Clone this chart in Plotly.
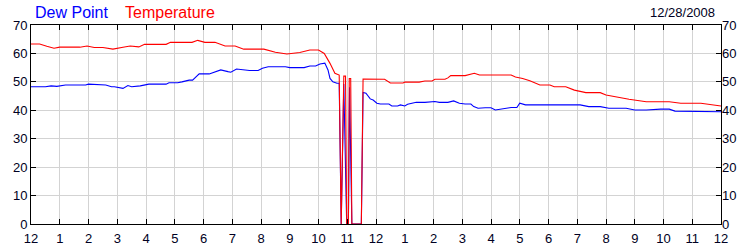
import plotly.graph_objects as go

# Hours since midnight (0 = 12 AM, 24 = next 12 AM)
dew_t = [0, 0.5, 0.7, 0.9, 1.2, 1.9, 2.0, 2.4, 2.6, 2.8, 2.9, 3.2, 3.37, 3.5, 3.8, 4.1, 4.7, 4.8, 5.1, 5.25,
         5.5, 5.62, 5.72, 5.85, 6.2, 6.4, 6.6, 6.85, 6.95, 7.15, 7.45, 7.6, 7.9, 8.05, 8.25, 8.85, 9.0, 9.5, 9.7, 9.9,
         10.05, 10.22, 10.33, 10.4, 10.5, 10.64, 10.72, 10.79, 10.88, 10.98, 11.04, 11.08, 11.16, 11.49, 11.55,
         11.65, 11.8, 11.9, 12.03, 12.15, 12.45, 12.55, 12.75, 12.85, 13.0, 13.1, 13.25, 13.4, 13.7, 13.9, 14.05,
         14.2, 14.5, 14.7, 14.9, 15.1, 15.3, 15.4, 15.55, 15.8, 16.0, 16.15, 16.5, 16.7, 16.9, 17.0, 17.2, 17.9,
         19.1, 19.4, 19.8, 20.1, 20.7, 21.0, 21.4, 21.9, 22.2, 22.4, 22.9, 23.4, 24]
dew_v = [48.3, 48.3, 48.6, 48.4, 48.9, 48.9, 49.2, 48.9, 48.9, 48.3, 48.3, 47.7, 48.7, 48.3, 48.6, 49.2, 49.2,
         49.7, 49.7, 50.0, 50.6, 50.6, 51.6, 52.8, 52.8, 53.6, 54.2, 53.6, 53.4, 54.5, 54.2, 54.0, 54.0, 54.8,
         55.3, 55.3, 55.0, 55.0, 55.6, 55.6, 56.3, 56.6, 54.2, 51.2, 50.0, 49.5, 49.5, 0, 49.2, 0, 0, 48.1, 0, 0,
         46.3, 46.0, 44.0, 43.6, 42.5, 42.2, 42.2, 41.5, 41.5, 41.9, 41.5, 42.1, 42.5, 42.8, 42.8, 43.1, 43.1,
         42.8, 42.8, 43.3, 42.5, 42.2, 42.2, 41.3, 40.7, 40.9, 40.9, 40.1, 40.7, 41.0, 41.0, 42.5, 41.9, 41.9,
         41.9, 41.3, 41.3, 40.7, 40.7, 40.1, 40.1, 40.4, 40.4, 39.7, 39.7, 39.5, 39.5]

temp_t = [0, 0.3, 0.55, 0.8, 1.0, 1.7, 1.95, 2.2, 2.5, 2.85, 3.2, 3.45, 3.75, 3.95, 4.7, 4.85, 5.6, 5.8, 6.05,
          6.4, 6.75, 7.1, 7.4, 8.1, 8.5, 8.9, 9.35, 9.7, 10.0, 10.2, 10.4, 10.57, 10.72, 10.79, 10.88, 10.94,
          10.98, 11.04, 11.07, 11.12, 11.16, 11.49, 11.55, 12.0, 12.3, 12.5, 12.94, 13.0, 13.5, 13.7, 13.95,
          14.05, 14.4, 14.5, 14.6, 15.1, 15.3, 15.42, 15.6, 16.7, 16.85, 17.1, 17.35, 17.5, 17.7, 18.05, 18.2,
          18.6, 18.9, 19.3, 19.8, 20.0, 20.5, 20.8, 21.4, 22.2, 22.6, 23.3, 24]
temp_v = [63.3, 63.3, 62.5, 61.8, 62.2, 62.2, 62.6, 62.1, 62.1, 61.5, 62.2, 62.6, 62.3, 63.2, 63.2, 63.9, 63.9,
          64.6, 63.9, 63.9, 62.6, 62.6, 61.5, 61.5, 60.4, 59.8, 60.3, 61.2, 61.2, 60.0, 56.5, 53.0, 52.4, 0,
          52.0, 52.0, 0, 0, 51.2, 51.2, 0, 0, 51.0, 51.0, 50.9, 49.6, 49.6, 49.9, 49.9, 50.3, 50.3, 50.9, 50.9,
          51.4, 52.2, 52.2, 52.7, 53.0, 52.4, 52.4, 51.7, 51.2, 50.4, 49.7, 48.9, 48.9, 48.3, 48.3, 47.1, 46.2,
          46.2, 45.4, 44.4, 43.9, 43.0, 43.0, 42.5, 42.5, 41.5]

assert len(dew_t) == len(dew_v) and len(temp_t) == len(temp_v)

hour_vals = list(range(25))
hour_text = ["12"] + [str(h) for h in range(1, 12)] + ["12"] + [str(h) for h in range(1, 12)] + ["12"]

date_label = "12/28/2008"
series_names = ["Dew Point", "Temperature"]
series_colors = ["#0000ff", "#ff0000"]

FONT = "Liberation Sans, Arial, sans-serif"
TICKCOL = "#000022"

fig = go.Figure()
fig.add_trace(go.Scatter(x=dew_t, y=dew_v, mode="lines", name=series_names[0],
                         line=dict(color=series_colors[0], width=1.1), yaxis="y"))
fig.add_trace(go.Scatter(x=temp_t, y=temp_v, mode="lines", name=series_names[1],
                         line=dict(color=series_colors[1], width=1.1), yaxis="y2"))

fig.update_layout(
    width=750, height=250,
    margin=dict(l=31, r=29, t=25, b=26),
    paper_bgcolor="white", plot_bgcolor="white",
    showlegend=False,
    font=dict(family=FONT, size=13, color=TICKCOL),
    xaxis=dict(range=[0, 24], tickvals=hour_vals, ticktext=hour_text,
               ticks="inside", ticklen=5, tickcolor="black", tickwidth=1,
               ticklabelstandoff=2, automargin=False,
               showline=True, linecolor="black", linewidth=1, mirror="ticks",
               showgrid=True, gridcolor="#d3d3d3", gridwidth=1, zeroline=False,
               tickfont=dict(family=FONT, size=13, color=TICKCOL)),
    yaxis=dict(range=[0, 70], dtick=10, tick0=0, automargin=False,
               ticks="inside", ticklen=5, tickcolor="black",
               showline=True, linecolor="black", linewidth=1, mirror=True,
               showgrid=True, gridcolor="#d3d3d3", gridwidth=1, zeroline=False,
               tickfont=dict(family=FONT, size=13, color=TICKCOL)),
    yaxis2=dict(range=[0, 70], dtick=10, tick0=0, overlaying="y", side="right",
                automargin=False,
                ticks="inside", ticklen=5, tickcolor="black",
                showline=False, showgrid=False, zeroline=False,
                tickfont=dict(family=FONT, size=13, color=TICKCOL)),
    annotations=[
        dict(text=series_names[0], xref="paper", yref="paper", x=2 / 690, y=1 + 13 / 199,
             xanchor="left", yanchor="middle", showarrow=False,
             font=dict(family=FONT, size=16, color=series_colors[0])),
        dict(text=series_names[1], xref="paper", yref="paper", x=92 / 690, y=1 + 13 / 199,
             xanchor="left", yanchor="middle", showarrow=False,
             font=dict(family=FONT, size=16, color=series_colors[1])),
        dict(text=date_label, xref="paper", yref="paper", x=686 / 690, y=1 + 12 / 199,
             xanchor="right", yanchor="middle", showarrow=False,
             font=dict(family=FONT, size=13, color=TICKCOL)),
    ],
)

fig.write_html("out.html")
